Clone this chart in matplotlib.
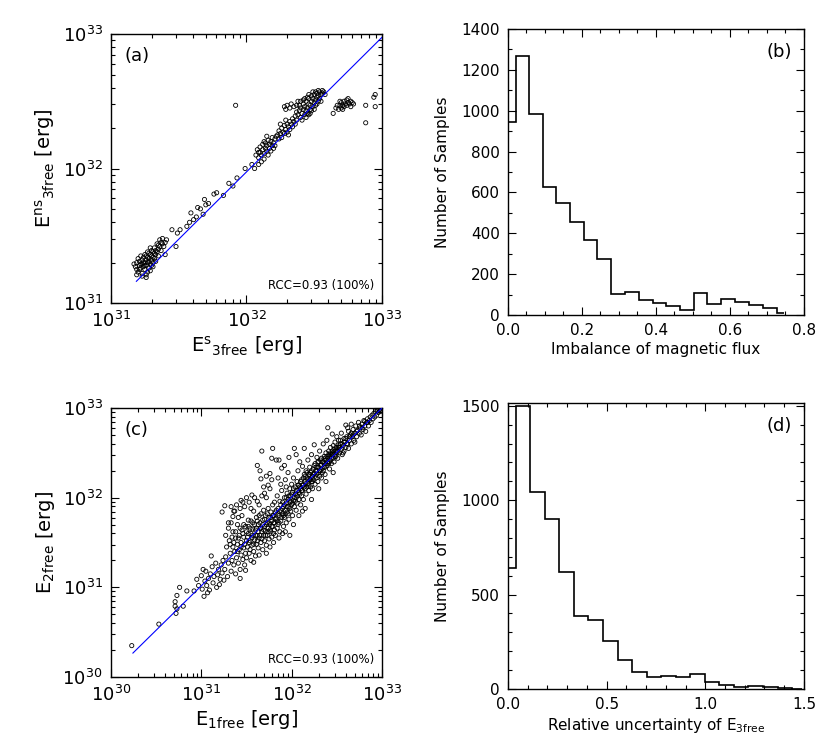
import numpy as np
import matplotlib
matplotlib.use('Agg')
import matplotlib.pyplot as plt
from matplotlib.ticker import LogLocator, MultipleLocator, NullFormatter

# ---- data ----
# panel (a): log10(E^s_3free), log10(E^ns_3free)
a_log_pts = [
    (31.18, 31.27), (31.19, 31.25), (31.19, 31.30), (31.20, 31.23), (31.20, 31.33), (31.21, 31.28),
    (31.21, 31.31), (31.22, 31.26), (31.22, 31.35), (31.23, 31.29), (31.23, 31.32), (31.23, 31.22),
    (31.24, 31.27), (31.24, 31.34), (31.25, 31.30), (31.25, 31.25), (31.25, 31.36), (31.26, 31.28),
    (31.26, 31.32), (31.26, 31.21), (31.27, 31.30), (31.27, 31.34), (31.27, 31.38), (31.28, 31.26),
    (31.28, 31.31), (31.28, 31.33), (31.29, 31.29), (31.29, 31.36), (31.29, 31.24), (31.30, 31.32),
    (31.30, 31.35), (31.30, 31.39), (31.31, 31.30), (31.31, 31.34), (31.31, 31.27), (31.32, 31.37),
    (31.32, 31.41), (31.32, 31.33), (31.33, 31.36), (31.33, 31.31), (31.34, 31.38), (31.34, 31.44),
    (31.35, 31.40), (31.35, 31.35), (31.36, 31.47), (31.36, 31.42), (31.37, 31.45), (31.37, 31.39),
    (31.38, 31.44), (31.38, 31.48), (31.39, 31.42), (31.40, 31.45), (31.40, 31.36), (31.41, 31.47),
    (31.28, 31.37), (31.26, 31.35), (31.24, 31.30), (31.22, 31.29), (31.21, 31.25), (31.30, 31.28),
    (31.33, 31.39), (31.35, 31.43), (31.23, 31.20), (31.27, 31.23), (31.29, 31.41), (31.31, 31.38),
    (31.25, 31.28), (31.19, 31.21), (31.17, 31.29), (31.26, 31.19),
    (31.45, 31.545), (31.49, 31.52), (31.51, 31.545), (31.48, 31.42), (31.56, 31.57), (31.59, 31.67),
    (31.61, 31.62), (31.63, 31.64), (31.66, 31.70), (31.68, 31.66), (31.69, 31.77), (31.72, 31.74),
    (31.76, 31.81), (31.78, 31.82), (31.83, 31.80), (31.87, 31.89), (31.90, 31.87), (31.93, 31.93),
    (31.99, 32.00), (32.04, 32.03), (32.09, 32.03), (32.06, 32.00), (31.58, 31.60), (31.64, 31.71),
    (31.70, 31.73),
    (32.07, 32.10), (32.08, 32.14), (32.09, 32.08), (32.10, 32.12), (32.10, 32.16), (32.11, 32.10),
    (32.12, 32.14), (32.12, 32.18), (32.13, 32.11), (32.13, 32.07), (32.14, 32.15), (32.14, 32.19),
    (32.15, 32.13), (32.15, 32.17), (32.16, 32.10), (32.16, 32.21), (32.17, 32.15), (32.17, 32.18),
    (32.18, 32.13), (32.18, 32.20), (32.19, 32.17), (32.19, 32.23), (32.20, 32.15), (32.20, 32.19),
    (32.21, 32.22), (32.21, 32.17), (32.22, 32.24), (32.11, 32.05), (32.09, 32.12), (32.15, 32.24),
    (32.13, 32.20),
    (32.23, 32.25), (32.24, 32.22), (32.24, 32.28), (32.25, 32.26), (32.26, 32.30), (32.26, 32.23),
    (32.27, 32.27), (32.28, 32.32), (32.28, 32.26), (32.29, 32.29), (32.30, 32.33), (32.30, 32.27),
    (32.31, 32.31), (32.32, 32.35), (32.32, 32.29), (32.33, 32.33), (32.34, 32.37), (32.34, 32.31),
    (32.35, 32.35), (32.36, 32.39), (32.36, 32.33), (32.37, 32.36), (32.25, 32.33), (32.29, 32.36),
    (32.31, 32.25),
    (32.28, 32.46), (32.29, 32.44), (32.30, 32.47), (32.32, 32.45), (32.33, 32.48), (32.35, 32.46),
    (32.37, 32.47), (32.38, 32.50),
    (32.38, 32.40), (32.39, 32.43), (32.40, 32.38), (32.40, 32.45), (32.41, 32.41), (32.42, 32.44),
    (32.42, 32.48), (32.43, 32.40), (32.43, 32.46), (32.44, 32.43), (32.44, 32.50), (32.45, 32.45),
    (32.45, 32.41), (32.46, 32.48), (32.46, 32.52), (32.47, 32.44), (32.47, 32.47), (32.48, 32.50),
    (32.48, 32.54), (32.49, 32.46), (32.49, 32.52), (32.50, 32.49), (32.50, 32.55), (32.51, 32.51),
    (32.51, 32.47), (32.52, 32.53), (32.52, 32.56), (32.53, 32.50), (32.53, 32.54), (32.54, 32.52),
    (32.54, 32.57), (32.55, 32.55), (32.55, 32.50), (32.56, 32.56), (32.56, 32.58), (32.57, 32.57),
    (32.41, 32.36), (32.44, 32.38), (32.47, 32.41), (32.39, 32.47), (32.42, 32.51), (32.45, 32.53),
    (32.48, 32.43), (32.52, 32.48), (32.50, 32.44), (32.46, 32.55), (32.43, 32.52), (32.40, 32.50),
    (32.58, 32.55), (32.49, 32.57), (32.37, 32.42), (32.53, 32.58), (32.46, 32.40), (32.51, 32.57),
    (32.64, 32.41), (32.66, 32.45), (32.67, 32.47), (32.68, 32.44), (32.69, 32.47), (32.70, 32.49),
    (32.70, 32.45), (32.71, 32.47), (32.72, 32.46), (32.72, 32.50), (32.73, 32.48), (32.74, 32.47),
    (32.74, 32.51), (32.75, 32.49), (32.76, 32.48), (32.77, 32.50), (32.77, 32.46), (32.78, 32.49),
    (32.79, 32.48), (32.71, 32.44), (32.75, 32.52), (32.69, 32.50),
    (31.92, 32.47), (32.88, 32.47), (32.88, 32.34), (32.95, 32.46), (32.95, 32.55), (32.94, 32.53),
]
a_fit_x = [1.54e31, 1.0e33]
a_fit_y = [1.45e31, 9.45e32]

# panel (c): log10(E_1free), log10(E_2free)
c_log_pts = [
    (30.23, 30.35), (30.53, 30.59), (30.71, 30.79), (30.72, 30.71), (30.73, 30.76), (30.76, 31.00),
    (30.80, 30.79), (30.84, 30.96), (30.73, 30.91), (30.71, 30.84),
    (30.92, 30.96), (30.95, 31.09), (30.97, 31.02), (31.00, 31.13), (31.01, 30.98), (31.03, 30.90),
    (31.04, 31.07), (31.05, 31.18), (31.06, 31.02), (31.08, 31.10), (31.09, 30.97), (31.10, 31.15),
    (31.12, 31.23), (31.13, 31.05), (31.14, 31.12), (31.16, 31.27), (31.17, 31.00), (31.18, 31.14),
    (31.19, 31.20), (31.21, 31.09), (31.22, 31.25), (31.23, 31.16), (31.24, 31.30), (31.25, 31.08),
    (31.02, 31.20), (31.07, 30.94), (31.11, 31.35), (31.20, 31.03),
    (31.26, 31.20), (31.27, 31.34), (31.28, 31.45), (31.29, 31.12), (31.30, 31.27), (31.31, 31.52),
    (31.32, 31.38), (31.33, 31.18), (31.34, 31.30), (31.35, 31.62), (31.35, 31.45), (31.36, 31.25),
    (31.37, 31.40), (31.38, 31.55), (31.38, 31.15), (31.39, 31.33), (31.40, 31.48), (31.40, 31.70),
    (31.41, 31.27), (31.42, 31.42), (31.42, 31.58), (31.43, 31.20), (31.44, 31.36), (31.44, 31.50),
    (31.45, 31.80), (31.45, 31.64), (31.46, 31.31), (31.47, 31.44), (31.47, 31.56), (31.48, 31.90),
    (31.48, 31.25), (31.49, 31.38), (31.49, 31.68), (31.50, 31.52), (31.50, 31.33), (31.30, 31.66),
    (31.33, 31.72), (31.27, 31.58), (31.36, 31.85), (31.43, 31.88), (31.46, 31.95), (31.39, 31.92),
    (31.41, 31.78), (31.26, 31.91), (31.33, 31.90), (31.23, 31.84), (31.30, 31.72), (31.37, 31.85),
    (31.35, 31.79), (31.44, 31.97), (31.50, 32.00), (31.56, 32.03), (31.49, 31.19), (31.43, 31.10),
    (31.51, 31.45), (31.52, 31.60), (31.52, 31.75), (31.53, 31.38), (31.54, 31.52), (31.54, 31.66),
    (31.55, 31.30), (31.56, 31.47), (31.57, 31.58), (31.57, 31.72), (31.58, 31.40), (31.58, 31.85),
    (31.59, 31.53), (31.60, 31.64), (31.60, 31.35), (31.61, 31.48), (31.61, 31.78), (31.62, 32.36),
    (31.62, 31.58), (31.63, 31.70), (31.63, 31.44), (31.64, 31.92), (31.64, 31.55), (31.65, 32.30),
    (31.65, 31.66), (31.66, 32.21), (31.66, 31.50), (31.67, 32.52), (31.67, 31.62), (31.68, 31.75),
    (31.68, 31.42), (31.69, 31.58), (31.69, 31.86), (31.70, 31.68), (31.70, 31.52), (31.71, 31.80),
    (31.71, 31.63), (31.72, 32.00), (31.72, 31.47), (31.73, 31.72), (31.73, 31.58), (31.74, 31.88),
    (31.74, 31.66), (31.75, 31.54), (31.75, 31.78), (31.76, 31.70), (31.76, 32.10), (31.77, 31.62),
    (31.77, 31.84), (31.78, 31.74), (31.78, 31.56), (31.79, 31.92), (31.79, 31.68), (31.80, 31.80),
    (31.80, 31.60), (31.53, 31.95), (31.59, 32.00), (31.67, 32.02), (31.62, 31.96), (31.70, 32.05),
    (31.55, 31.88), (31.58, 31.28), (31.64, 31.36), (31.66, 31.82), (31.74, 32.14), (31.69, 32.12),
    (31.78, 32.20), (31.76, 32.27), (31.72, 32.24), (31.72, 31.38), (31.76, 31.45),
    (31.81, 31.72), (31.81, 31.95), (31.82, 31.58), (31.82, 31.84), (31.83, 32.42), (31.83, 31.77),
    (31.84, 31.66), (31.84, 32.02), (31.85, 31.88), (31.85, 31.70), (31.86, 31.80), (31.86, 32.42),
    (31.87, 31.96), (31.87, 31.62), (31.88, 31.86), (31.88, 31.74), (31.89, 32.33), (31.89, 32.08),
    (31.90, 31.82), (31.90, 31.95), (31.91, 31.68), (31.91, 31.90), (31.92, 32.00), (31.92, 31.78),
    (31.93, 32.20), (31.93, 31.86), (31.94, 31.94), (31.94, 31.72), (31.95, 32.05), (31.95, 31.84),
    (31.96, 31.98), (31.96, 32.28), (31.97, 31.90), (31.97, 31.76), (31.98, 32.10), (31.98, 31.95),
    (31.99, 31.85), (31.99, 32.02), (32.00, 31.92), (32.00, 32.15), (32.01, 31.80), (32.01, 32.06),
    (32.02, 31.97), (32.02, 32.22), (32.03, 32.55), (32.03, 31.90), (32.04, 32.04), (32.04, 32.12),
    (32.05, 31.86), (32.05, 32.00), (32.06, 32.18), (32.06, 31.94), (32.07, 32.08), (32.07, 32.30),
    (32.08, 31.98), (32.08, 32.14), (32.09, 32.04), (32.09, 32.40), (32.10, 32.10), (32.10, 31.92),
    (31.79, 32.55), (31.78, 32.44), (31.85, 32.22), (31.92, 32.36), (31.97, 32.45), (32.05, 32.48),
    (31.88, 32.15), (31.94, 32.12), (31.80, 31.50), (31.86, 31.55), (31.93, 31.62), (31.98, 31.58),
    (32.02, 31.70), (32.08, 31.80), (31.90, 31.60),
    (32.11, 32.02), (32.11, 32.20), (32.12, 32.08), (32.12, 32.35), (32.13, 32.14), (32.13, 31.98),
    (32.14, 32.55), (32.14, 32.26), (32.15, 32.10), (32.15, 32.18), (32.16, 32.04), (32.16, 32.30),
    (32.17, 32.22), (32.17, 32.12), (32.18, 32.42), (32.18, 32.16), (32.19, 32.08), (32.19, 32.26),
    (32.20, 32.20), (32.20, 32.34), (32.21, 32.12), (32.21, 32.28), (32.22, 32.18), (32.22, 32.48),
    (32.23, 32.24), (32.23, 32.10), (32.24, 32.32), (32.24, 32.20), (32.25, 32.59), (32.25, 32.27),
    (32.26, 32.15), (32.26, 32.38), (32.27, 32.30), (32.27, 32.22), (32.28, 32.45), (32.28, 32.26),
    (32.29, 32.34), (32.29, 32.18), (32.30, 32.40), (32.30, 32.28), (32.31, 32.52), (32.31, 32.24),
    (32.32, 32.36), (32.32, 32.30), (32.33, 32.44), (32.33, 32.22), (32.34, 32.33), (32.34, 32.40),
    (32.35, 32.60), (32.35, 32.30), (32.36, 32.38), (32.36, 32.46), (32.37, 32.34), (32.37, 32.26),
    (32.38, 32.42), (32.38, 32.50), (32.39, 32.36), (32.39, 32.64), (32.40, 32.78), (32.40, 32.44),
    (32.41, 32.38), (32.41, 32.52), (32.42, 32.46), (32.42, 32.32), (32.43, 32.56), (32.43, 32.42),
    (32.44, 32.48), (32.44, 32.38), (32.45, 32.71), (32.45, 32.52), (32.46, 32.44), (32.46, 32.58),
    (32.47, 32.48), (32.47, 32.40), (32.48, 32.62), (32.48, 32.52), (32.49, 32.46), (32.49, 32.56),
    (32.50, 32.50), (32.50, 32.68), (32.15, 31.88), (32.22, 31.98), (32.30, 32.10), (32.38, 32.18),
    (32.46, 32.28), (32.12, 31.85),
    (32.51, 32.44), (32.52, 32.56), (32.52, 32.64), (32.53, 32.50), (32.54, 32.60), (32.55, 32.54),
    (32.55, 32.72), (32.56, 32.48), (32.57, 32.58), (32.58, 32.66), (32.58, 32.52), (32.59, 32.62),
    (32.60, 32.81), (32.60, 32.56), (32.61, 32.68), (32.62, 32.60), (32.63, 32.74), (32.63, 32.55),
    (32.64, 32.64), (32.65, 32.70), (32.66, 32.82), (32.66, 32.60), (32.67, 32.68), (32.68, 32.76),
    (32.69, 32.64), (32.70, 32.72), (32.71, 32.80), (32.72, 32.68), (32.73, 32.75), (32.74, 32.84),
    (32.75, 32.72), (32.76, 32.78), (32.77, 32.70), (32.78, 32.82), (32.79, 32.76), (32.80, 32.86),
    (32.81, 32.80), (32.82, 32.74), (32.83, 32.84), (32.84, 32.88), (32.85, 32.80), (32.86, 32.86),
    (32.87, 32.90), (32.88, 32.84), (32.89, 32.92), (32.90, 32.88), (32.91, 32.94), (32.92, 32.90),
    (32.93, 32.96), (32.94, 32.92), (32.95, 32.97), (32.96, 32.95), (32.97, 32.98), (32.98, 32.96),
    (32.99, 32.99), (32.81, 32.85), (32.70, 32.62), (32.62, 32.78), (32.57, 32.50),
]
# extra points in the dense core of the (c) cloud
c_log_pts_core = [
    (31.32, 31.48), (31.34, 31.56), (31.36, 31.50), (31.38, 31.62), (31.40, 31.40), (31.41, 31.55),
    (31.43, 31.66), (31.44, 31.45), (31.46, 31.60), (31.47, 31.70), (31.48, 31.48), (31.50, 31.62),
    (31.51, 31.56), (31.52, 31.68), (31.53, 31.50), (31.54, 31.42), (31.55, 31.60), (31.55, 31.74),
    (31.56, 31.55), (31.57, 31.65), (31.58, 31.48), (31.59, 31.70), (31.60, 31.58), (31.61, 31.66),
    (31.62, 31.52), (31.62, 31.74), (31.63, 31.62), (31.64, 31.80), (31.65, 31.58), (31.65, 31.72),
    (31.66, 31.66), (31.67, 31.54), (31.68, 31.70), (31.69, 31.64), (31.70, 31.76), (31.71, 31.58),
    (31.72, 31.70), (31.73, 31.82), (31.74, 31.62), (31.75, 31.72), (31.76, 31.64), (31.77, 31.78),
    (31.78, 31.68), (31.79, 31.80), (31.80, 31.72), (31.81, 31.64), (31.82, 31.76), (31.83, 31.86),
    (31.84, 31.74), (31.85, 31.82), (31.86, 31.72), (31.87, 31.84), (31.88, 31.92), (31.89, 31.78),
    (31.90, 31.88), (31.91, 31.80), (31.92, 31.92), (31.93, 31.82), (31.94, 32.00), (31.95, 31.90),
    (31.96, 31.82), (31.97, 32.02), (31.98, 31.88), (31.99, 31.96), (32.00, 32.04), (32.01, 31.94),
    (32.02, 32.10), (32.03, 32.00), (32.04, 31.96), (32.05, 32.08), (32.06, 32.02), (32.07, 32.14),
    (32.08, 32.06), (32.09, 32.12), (32.10, 32.18), (32.11, 32.08), (32.12, 32.14), (32.13, 32.22),
    (32.14, 32.12), (32.15, 32.24), (32.16, 32.16), (32.17, 32.28), (32.18, 32.20), (32.19, 32.14),
    (32.20, 32.26), (32.21, 32.20), (32.22, 32.30), (32.23, 32.18), (32.24, 32.26), (32.25, 32.36),
    (32.26, 32.24), (32.27, 32.34), (32.28, 32.30), (32.29, 32.40), (32.30, 32.34), (32.31, 32.30),
    (32.32, 32.42), (32.33, 32.36), (32.34, 32.28), (32.35, 32.40), (32.36, 32.34), (32.37, 32.44),
    (32.38, 32.38), (32.39, 32.46), (32.40, 32.40), (32.41, 32.48), (32.42, 32.40), (32.43, 32.50),
    (32.44, 32.44), (32.45, 32.48), (32.46, 32.50), (32.47, 32.54), (32.48, 32.46), (32.49, 32.52),
    (32.50, 32.56), (32.51, 32.52), (32.52, 32.58), (32.53, 32.56), (32.54, 32.64), (32.56, 32.60),
    (32.58, 32.62), (32.60, 32.66), (32.61, 32.60), (32.64, 32.68), (32.66, 32.72), (32.68, 32.70),
    (32.72, 32.74), (32.75, 32.80), (32.78, 32.78), (32.84, 32.84),
]
c_fit_x = [1.75e30, 1.0e33]
c_fit_y = [1.85e30, 1.0e33]

# panel (b): imbalance of magnetic flux histogram
b_edges = [0.0, 0.022, 0.056, 0.094, 0.130, 0.169, 0.205, 0.242, 0.279, 0.316, 0.353,
           0.391, 0.428, 0.465, 0.502, 0.539, 0.577, 0.614, 0.651, 0.688, 0.726, 0.745]
b_counts = [943, 1266, 985, 624, 547, 456, 366, 273, 101, 113, 72,
            60, 44, 23, 106, 54, 78, 64, 51, 34, 11]

# panel (d): relative uncertainty of E3free histogram
d_edges = [0.0, 0.041, 0.114, 0.187, 0.261, 0.335, 0.408, 0.482, 0.556, 0.630, 0.703,
           0.777, 0.851, 0.924, 0.998, 1.072, 1.145, 1.219, 1.293, 1.367, 1.440, 1.490]
d_counts = [640, 1500, 1045, 899, 619, 389, 363, 253, 152, 88, 62,
            67, 62, 80, 35, 23, 9, 14, 9, 5, 2]

# ---- figure ----
plt.rcParams['font.family'] = 'DejaVu Sans'
plt.rcParams['mathtext.default'] = 'regular'

fig = plt.figure(figsize=(8.3, 7.48), dpi=100)
ax_a = fig.add_axes([0.1337, 0.5949, 0.3265, 0.3596])
ax_b = fig.add_axes([0.6120, 0.5789, 0.3566, 0.3824])
ax_c = fig.add_axes([0.1337, 0.0949, 0.3265, 0.3596])
ax_d = fig.add_axes([0.6120, 0.0789, 0.3566, 0.3824])


def style_box(ax, lsize):
    ax.tick_params(which='both', direction='in', top=True, right=True, width=0.8)
    ax.tick_params(which='major', length=6, labelsize=lsize, pad=6)
    ax.tick_params(which='minor', length=3)
    for sp in ax.spines.values():
        sp.set_linewidth(1.0)


def scatter_panel(ax, pts, fx, fy, lo, hi, label, xlab, ylab):
    pts = np.array(pts)
    ax.scatter(10 ** pts[:, 0], 10 ** pts[:, 1], s=9, facecolors='none',
               edgecolors='black', linewidths=0.6, zorder=2)
    ax.plot(fx, fy, color='blue', lw=0.8, zorder=3)
    ax.set_xscale('log')
    ax.set_yscale('log')
    ax.set_xlim(lo, hi)
    ax.set_ylim(lo, hi)
    for axis in (ax.xaxis, ax.yaxis):
        axis.set_major_locator(LogLocator(base=10))
        axis.set_minor_locator(LogLocator(base=10, subs=np.arange(2, 10)))
        axis.set_minor_formatter(NullFormatter())
    style_box(ax, 13)
    ax.text(0.05, 0.95, label, transform=ax.transAxes, fontsize=13, va='top', ha='left')
    ax.text(0.97, 0.04, 'RCC=0.93 (100%)', transform=ax.transAxes, fontsize=8.5,
            va='bottom', ha='right')
    ax.set_xlabel(xlab, fontsize=14, labelpad=2)
    ax.set_ylabel(ylab, fontsize=14, labelpad=4)


def hist_panel(ax, edges, counts, xmax, ymax, xminor, yminor, ymajor, label, xlab):
    ax.stairs(counts, edges, baseline=None, color='black', lw=1.2)
    ax.set_xlim(0, xmax)
    ax.set_ylim(0, ymax)
    ax.xaxis.set_minor_locator(MultipleLocator(xminor))
    ax.yaxis.set_major_locator(MultipleLocator(ymajor))
    ax.yaxis.set_minor_locator(MultipleLocator(yminor))
    style_box(ax, 11)
    ax.text(0.96, 0.95, label, transform=ax.transAxes, fontsize=13, va='top', ha='right')
    ax.set_xlabel(xlab, fontsize=11, labelpad=3)
    ax.set_ylabel('Number of Samples', fontsize=11, labelpad=8)


scatter_panel(ax_a, a_log_pts, a_fit_x, a_fit_y, 1e31, 1e33, '(a)',
              r'E$^{s}$$_{3free}$ [erg]', r'E$^{ns}$$_{3free}$ [erg]')
scatter_panel(ax_c, c_log_pts + c_log_pts_core, c_fit_x, c_fit_y, 1e30, 1e33, '(c)',
              r'E$_{1free}$ [erg]', r'E$_{2free}$ [erg]')

hist_panel(ax_b, b_edges, b_counts, 0.8, 1400, 0.05, 100, 200, '(b)',
           'Imbalance of magnetic flux')
ax_b.xaxis.set_major_locator(MultipleLocator(0.2))
ax_b.xaxis.set_major_formatter(plt.FormatStrFormatter('%.1f'))

hist_panel(ax_d, d_edges, d_counts, 1.5, 1515, 0.1, 100, 500, '(d)',
           r'Relative uncertainty of E$_{3free}$')
ax_d.xaxis.set_major_locator(MultipleLocator(0.5))
ax_d.xaxis.set_major_formatter(plt.FormatStrFormatter('%.1f'))

fig.savefig('out.png', dpi=100)
